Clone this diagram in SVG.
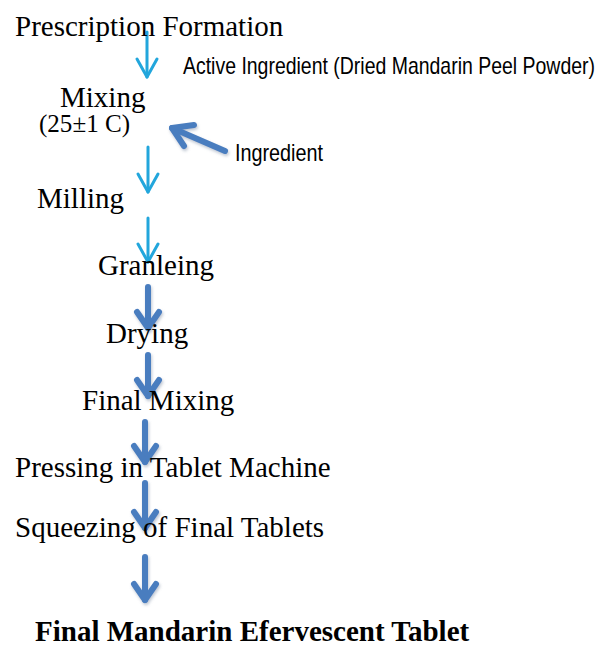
<svg xmlns="http://www.w3.org/2000/svg" width="600" height="648" viewBox="0 0 600 648">
  <style>
    .step { font-family: "Liberation Serif", "Times New Roman", serif; font-size: 29px; fill: #000; }
    .small { font-family: "Liberation Serif", "Times New Roman", serif; font-size: 25px; fill: #000; }
    .title { font-family: "Liberation Serif", "Times New Roman", serif; font-size: 29px; font-weight: bold; fill: #000; }
    .note { font-family: "Liberation Sans", Arial, sans-serif; font-size: 24px; fill: #000; }
    .thin { fill: none; stroke: #22a6dc; stroke-width: 3; stroke-linecap: round; stroke-linejoin: round; }
    .thick { fill: none; stroke: #4a7dbf; stroke-width: 6; stroke-linecap: round; stroke-linejoin: round; }
  </style>
  <defs>
    <filter id="sh" x="-50%" y="-50%" width="200%" height="200%">
      <feGaussianBlur in="SourceAlpha" stdDeviation="1.5"/>
      <feOffset dx="1" dy="2" result="b"/>
      <feFlood flood-color="#7f8fa6" flood-opacity="0.5"/>
      <feComposite in2="b" operator="in"/>
      <feMerge><feMergeNode/><feMergeNode in="SourceGraphic"/></feMerge>
    </filter>
  </defs>
  <rect width="600" height="648" fill="#fff"/>

  <g id="connectors">
    <g id="c1"><line class="thin" x1="147" y1="32" x2="147" y2="77"/><polyline class="thin" points="137,59 147,77 157,59"/></g>
    <g id="c2"><line class="thin" x1="148" y1="147" x2="148" y2="192"/><polyline class="thin" points="138,174 148,192 158,174"/></g>
    <g id="c3"><line class="thin" x1="148" y1="218" x2="148" y2="262"/><polyline class="thin" points="138,244 148,262 158,244"/></g>
    <g filter="url(#sh)">
      <g id="cIng"><line class="thick" x1="225" y1="151" x2="172" y2="128"/><polyline class="thick" points="194,125 172,128 184,146"/></g>
      <g id="c4"><line class="thick" x1="148" y1="287" x2="148" y2="328"/><polyline class="thick" points="137,312 148,328 159,312"/></g>
      <g id="c5"><line class="thick" x1="148" y1="355" x2="148" y2="396"/><polyline class="thick" points="137,380 148,396 159,380"/></g>
      <g id="c6"><line class="thick" x1="145" y1="422" x2="145" y2="462"/><polyline class="thick" points="134,446 145,462 156,446"/></g>
      <g id="c7"><line class="thick" x1="145" y1="483" x2="145" y2="528"/><polyline class="thick" points="134,512 145,528 156,512"/></g>
      <g id="c8"><line class="thick" x1="145" y1="557" x2="145" y2="600"/><polyline class="thick" points="134,584 145,600 156,584"/></g>
    </g>
  </g>

  <g id="n-prescription"><text class="step" x="15" y="36">Prescription Formation</text></g>
  <g id="n-active"><text class="note" transform="scale(0.8 1)" x="228.75" y="74" textLength="515" lengthAdjust="spacingAndGlyphs">Active Ingredient (Dried Mandarin Peel Powder)</text></g>
  <g id="n-mixing"><text class="step" x="60" y="107">Mixing</text><text class="small" x="39" y="132" textLength="91" lengthAdjust="spacingAndGlyphs">(25±1 C)</text></g>
  <g id="n-ingredient"><text class="note" transform="scale(0.8 1)" x="293.75" y="161" textLength="110" lengthAdjust="spacingAndGlyphs">Ingredient</text></g>
  <g id="n-milling"><text class="step" x="37" y="208">Milling</text></g>
  <g id="n-granleing"><text class="step" x="98" y="275">Granleing</text></g>
  <g id="n-drying"><text class="step" x="106" y="343">Drying</text></g>
  <g id="n-finalmixing"><text class="step" x="82" y="410">Final Mixing</text></g>
  <g id="n-pressing"><text class="step" x="15" y="477">Pressing in Tablet Machine</text></g>
  <g id="n-squeezing"><text class="step" x="15" y="537">Squeezing of Final Tablets</text></g>
  <g id="n-final"><text class="title" x="35" y="641">Final Mandarin Efervescent Tablet</text></g>
</svg>
